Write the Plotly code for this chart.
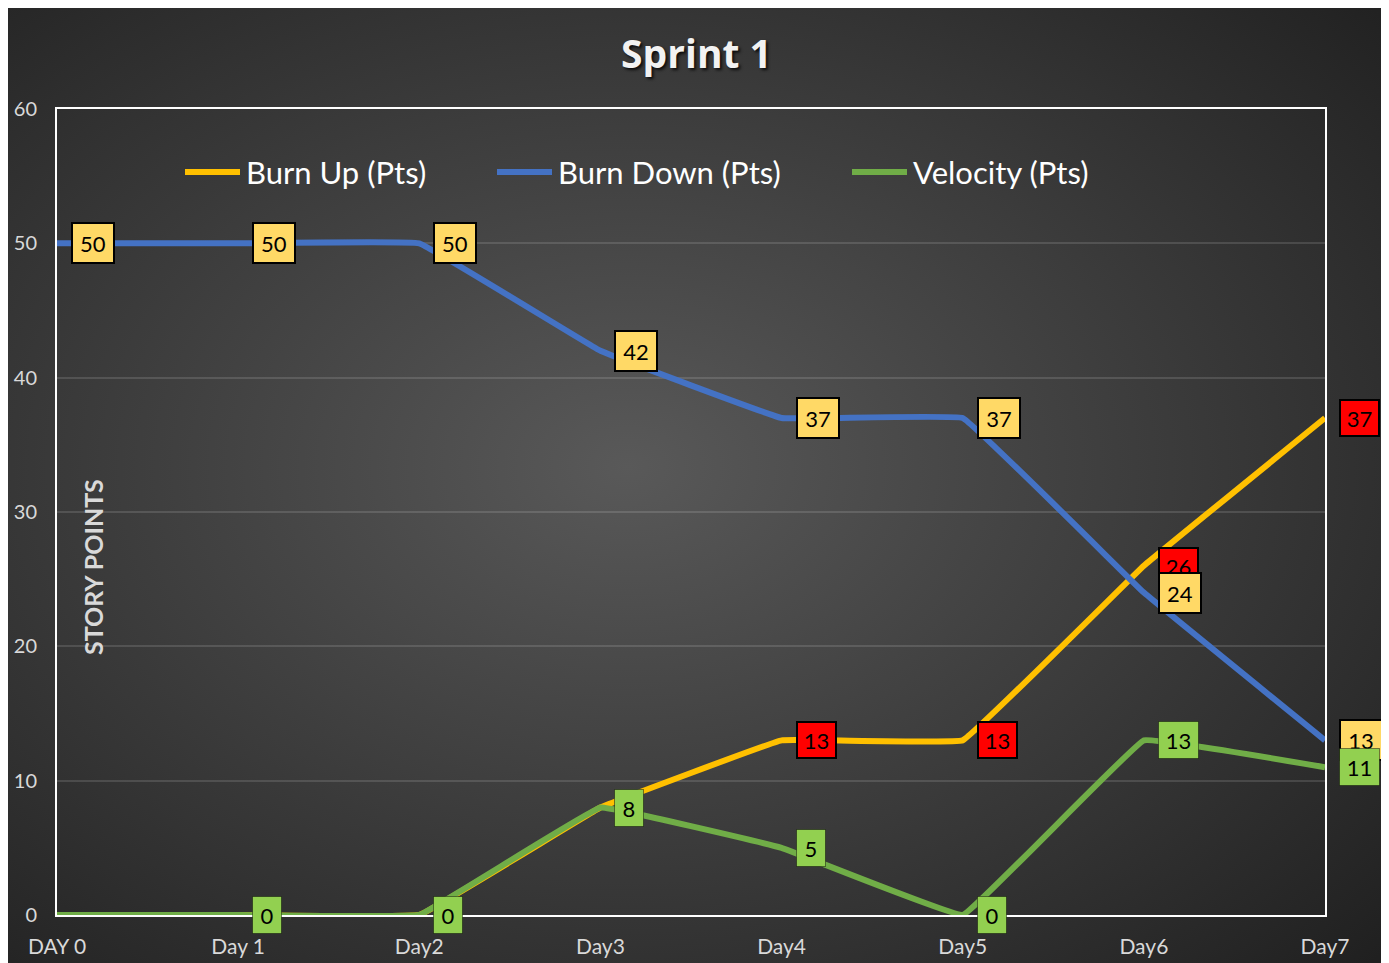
import base64
import plotly.graph_objects as go

# ---------------- data ----------------
days = ["DAY 0", "Day 1", "Day2", "Day3", "Day4", "Day5", "Day6", "Day7"]
burn_up = [0, 0, 0, 8, 13, 13, 26, 37]
burn_down = [50, 50, 50, 42, 37, 37, 24, 13]
velocity = [0, 0, 0, 8, 5, 0, 13, 11]
# which points carry a data label
burn_up_labelled = [False, False, False, False, True, True, True, True]
burn_down_labelled = [True] * 8
velocity_labelled = [False, True, True, True, True, True, True, True]
y_ticks = [0, 10, 20, 30, 40, 50, 60]

series_names = ["Burn Up (Pts)", "Burn Down (Pts)", "Velocity (Pts)"]
colors = ["#FFC000", "#4472C4", "#70AD47"]

# ---------------- layout geometry ----------------
W, H = 1377, 955
L, R, T, B = 49, 60, 101, 48
PW, PH = W - L - R, H - T - B
FONT = "Lato"

xs = list(range(len(days)))

fig = go.Figure()
for name, vals, col in zip(series_names, [burn_up, burn_down, velocity], colors):
    fig.add_trace(go.Scatter(
        x=xs, y=vals, name=name, mode="lines",
        line=dict(color=col, width=6, shape="spline", smoothing=0.15),
        showlegend=False, hoverinfo="skip",
    ))

# ---------------- background gradient (svg) ----------------
svg = f'''<svg xmlns="http://www.w3.org/2000/svg" width="{W}" height="{H}" viewBox="0 0 {W} {H}">
<defs><radialGradient id="g" cx="45%" cy="48%" r="75%">
<stop offset="0%" stop-color="#595959"/><stop offset="100%" stop-color="#202020"/>
</radialGradient></defs>
<rect width="{W}" height="{H}" fill="url(#g)"/></svg>'''
src = "data:image/svg+xml;base64," + base64.b64encode(svg.encode()).decode()

images = [dict(source=src, xref="paper", yref="paper",
               x=-L / PW, y=1 + T / PH, sizex=W / PW, sizey=H / PH,
               sizing="stretch", xanchor="left", yanchor="top", layer="below")]

annotations = []


def add_label(i, v, bg, w, h, bw, bc):
    annotations.append(dict(
        x=i, y=v, xref="x", yref="y", text=str(v), showarrow=False,
        xanchor="center", yanchor="middle", xshift=14 + w / 2,
        width=w - 2 * bw, height=h - 2 * bw, borderpad=0,
        bgcolor=bg, bordercolor=bc, borderwidth=bw,
        font=dict(family=FONT, size=22, color="#000000"),
    ))


for i, (v, s) in enumerate(zip(burn_up, burn_up_labelled)):
    if s:
        add_label(i, v, "#FF0000", 41, 38, 2, "#000000")
for i, (v, s) in enumerate(zip(burn_down, burn_down_labelled)):
    if s:
        add_label(i, v, "#FFD966", 44, 42, 2, "#000000")
for i, (v, s) in enumerate(zip(velocity, velocity_labelled)):
    if s:
        w = 30 if v < 10 else 41
        add_label(i, v, "#92D050", w, 38, 1, "rgba(0,0,0,0.45)")

# y-axis title inside plot
annotations.append(dict(
    x=(85 - L) / PW, y=(H - B - 559) / PH, xref="paper", yref="paper",
    text="<b>STORY POINTS</b>", showarrow=False, textangle=-90,
    font=dict(family=FONT, size=25, color="#D9D9D9"),
    xanchor="center", yanchor="middle",
))

# manual legend
shapes = []
legend_y = (H - B - 164) / PH
legend_pos = [(177, 232), (489, 544), (844, 899)]
for (x0, x1), name, col in zip(legend_pos, series_names, colors):
    shapes.append(dict(type="line", xref="paper", yref="paper",
                       x0=(x0 - L) / PW, x1=(x1 - L) / PW, y0=legend_y, y1=legend_y,
                       line=dict(color=col, width=6)))
    annotations.append(dict(
        x=(x1 + 4 - L) / PW, y=legend_y, xref="paper", yref="paper",
        text=name, showarrow=False, xanchor="left", yanchor="middle",
        font=dict(family=FONT, size=31, color="#FFFFFF"),
    ))

fig.update_layout(
    width=W, height=H,
    margin=dict(l=L, r=R, t=T, b=B, pad=0, autoexpand=False),
    paper_bgcolor="#FFFFFF",
    plot_bgcolor="rgba(0,0,0,0)",
    images=images,
    shapes=shapes,
    annotations=annotations,
    showlegend=False,
    title=dict(text="<b>Sprint 1</b>", x=0.5, xref="container",
               y=1 - 46 / H, yref="container", xanchor="center", yanchor="middle",
               font=dict(family="Open Sans", size=39, color="#F2F2F2",
                         shadow="2px 2px 3px rgba(0,0,0,0.8)")),
    xaxis=dict(
        range=[0, len(days) - 1], tickmode="array", tickvals=xs, ticktext=days,
        showgrid=False, zeroline=False, showline=True, mirror=True, automargin=False,
        linecolor="#FFFFFF", linewidth=2, ticks="", ticklabelstandoff=12,
        tickfont=dict(family=FONT, size=21, color="#D9D9D9"),
    ),
    yaxis=dict(
        range=[0, 60], tickmode="array", tickvals=y_ticks, automargin=False,
        showgrid=True, gridcolor="rgba(255,255,255,0.13)", gridwidth=2,
        zeroline=False, showline=True, mirror=True,
        linecolor="#FFFFFF", linewidth=2, ticks="", ticklabelstandoff=14,
        tickfont=dict(family=FONT, size=20, color="#D9D9D9"),
    ),
)

fig.write_html("out.html")
